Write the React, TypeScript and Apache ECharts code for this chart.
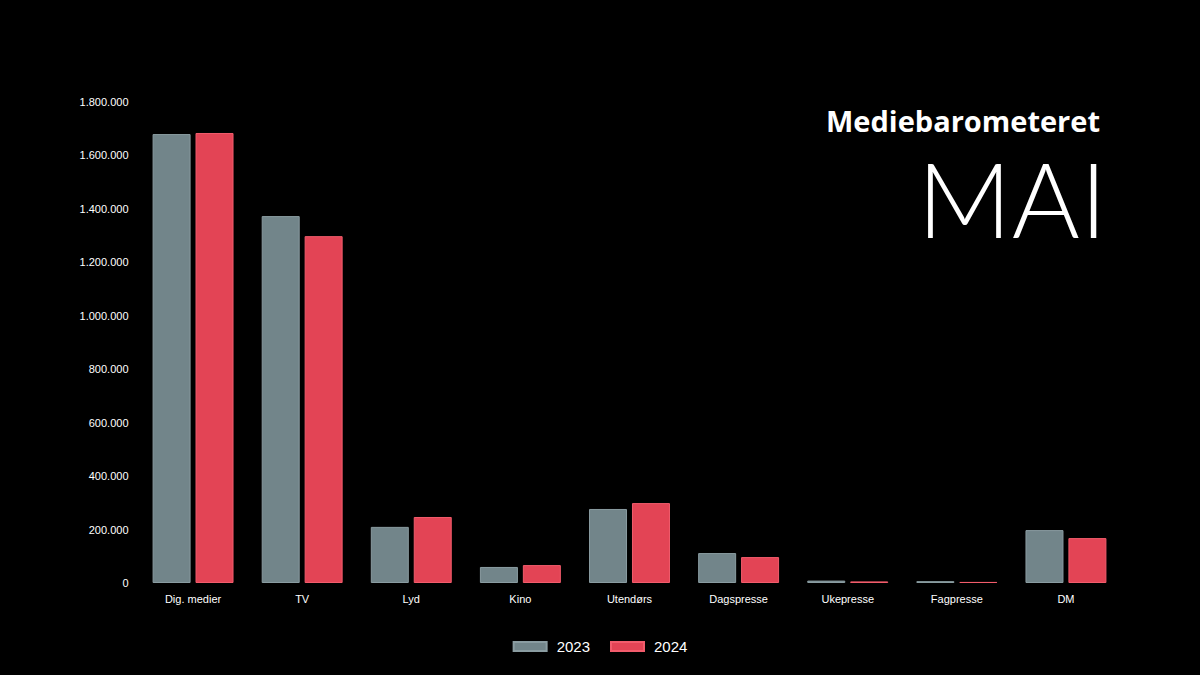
import React, { useEffect, useRef } from "react";
import * as echarts from "echarts";

const categories = ["Dig. medier", "TV", "Lyd", "Kino", "Utendørs", "Dagspresse", "Ukepresse", "Fagpresse", "DM"];
const values2023 = [1680000, 1373000, 210000, 60000, 277000, 112000, 9000, 7000, 198000];
const values2024 = [1684000, 1298000, 247000, 67000, 299000, 97000, 6000, 4000, 168000];
const yTicks = { min: 0, max: 1800000, interval: 200000 };

const fmt = (v: number) => String(Math.round(v)).replace(/\B(?=(\d{3})+(?!\d))/g, ".");

export default function App() {
  const ref = useRef<HTMLDivElement>(null);
  useEffect(() => {
    if (!ref.current) return;
    const chart = echarts.init(ref.current, undefined, { renderer: "svg" });
    chart.setOption({
      animation: false,
      backgroundColor: "#000000",
      textStyle: { fontFamily: "Liberation Sans, Arial, sans-serif" },
      title: [
        {
          text: "Mediebarometeret",
          right: 95,
          top: 101,
          textStyle: { color: "#ffffff", fontSize: 29, fontWeight: "bold", fontFamily: "Open Sans, sans-serif" },
        },
        {
          text: "MAI",
          right: 88,
          top: 152,
          textStyle: { color: "#ffffff", fontSize: 104, lineHeight: 80, fontWeight: 300, fontFamily: "Lato, sans-serif" },
        },
      ],
      legend: {
        bottom: 16,
        left: "center",
        itemWidth: 33,
        itemHeight: 9,
        itemGap: 20,
        icon: "rect",
        textStyle: { color: "#ffffff", fontSize: 15, padding: [0, 0, 0, 5] },
        data: ["2023", "2024"],
      },
      grid: { left: 138.5, right: 79.5, top: 102, bottom: 92, containLabel: false },
      xAxis: {
        type: "category",
        data: categories,
        axisLine: { show: false },
        axisTick: { show: false },
        axisLabel: { color: "#ffffff", fontSize: 11, margin: 10 },
      },
      yAxis: {
        type: "value",
        min: yTicks.min,
        max: yTicks.max,
        interval: yTicks.interval,
        splitLine: { show: false },
        axisLine: { show: false },
        axisTick: { show: false },
        axisLabel: { color: "#ffffff", fontSize: 11, margin: 10, formatter: (v: number) => fmt(v) },
      },
      series: [
        {
          name: "2023",
          type: "bar",
          data: values2023,
          barWidth: 38,
          barGap: "13%",
          itemStyle: { color: "#72858a", borderColor: "#8a9ca1", borderWidth: 1 },
        },
        {
          name: "2024",
          type: "bar",
          data: values2024,
          barWidth: 38,
          barGap: "13%",
          itemStyle: { color: "#e34455", borderColor: "#f25c6c", borderWidth: 1 },
        },
      ],
    });
    return () => chart.dispose();
  }, []);
  return <div ref={ref} style={{ width: 1200, height: 675, position: "absolute", left: 0, top: 0 }} />;
}
